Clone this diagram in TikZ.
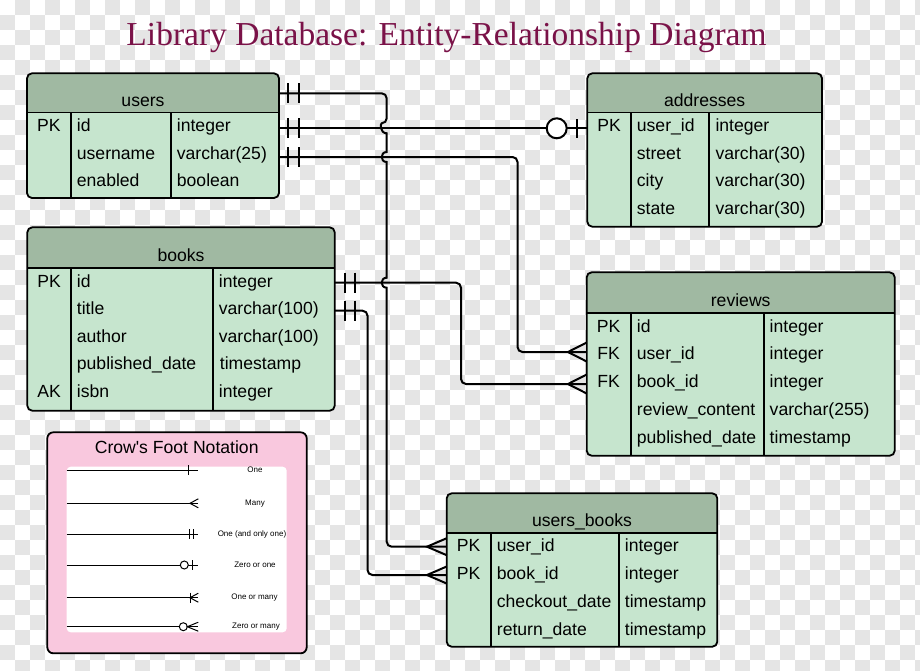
\documentclass[tikz,border=0pt]{standalone}
\usepackage{fontspec}
\setmainfont{Liberation Sans}
\newfontfamily\rawsans{Liberation Sans}
\newfontfamily\titlefont{Liberation Serif}
\usetikzlibrary{fit}
\definecolor{hdr}{RGB}{160,185,162}
\definecolor{bodyc}{RGB}{198,229,206}
\definecolor{pinkc}{RGB}{249,200,222}
\definecolor{titlec}{RGB}{122,18,72}
\definecolor{chk}{RGB}{229,229,229}
\newcommand\ertable[8]{%
  \node[tblbox, fit={(#2,#3) (#4,#6)}] (#1) {};
  \begin{scope}
    \clip[rounded corners=5pt] (#1.north west) rectangle (#1.south east);
    \fill[hdr] (#1.north west) rectangle (#4,#5);
  \end{scope}
  \draw[tline] (#2,#5) -- (#4,#5);
  \draw[tline] (#7,#5) -- (#7,#6);
  \draw[tline] (#8,#5) -- (#8,#6);
  \draw[tline, rounded corners=5pt] (#1.north west) rectangle (#1.south east);
}
\begin{document}
\begin{tikzpicture}[x=1pt,y=-1pt,
  tblbox/.style={fill=bodyc, inner sep=0pt, outer sep=0pt, rounded corners=5pt},
  tline/.style={line width=1.8pt, black},
  conn/.style={line width=2pt},
  barline/.style={line width=2pt},
  thinl/.style={line width=1pt},
  cell/.style={font=\fontsize{17.6}{20}\selectfont, inner sep=0pt, text height=12pt, text depth=4pt, anchor=west},
  pkc/.style={cell, anchor=center},
  ttl/.style={font=\fontsize{17.6}{20}\selectfont, inner sep=0pt, anchor=base},
  lgd/.style={font=\fontsize{8}{9}\selectfont, inner sep=0pt},
]
\useasboundingbox (0,0) rectangle (920,670);
\fill[white] (0,0) rectangle (920,670);
% checkerboard background
\foreach \j in {0,...,44}{
  \pgfmathtruncatemacro\off{mod(\j,2)}
  \foreach \k in {0,...,30}{
    \fill[chk] ({(2*\k+1-\off)*15},{\j*15}) rectangle ++(15,15);
  }
}
% title
\node[inner sep=0pt, anchor=base, text=titlec, font=\titlefont\fontsize{33.5}{36}\selectfont] (title) at (446.5,45.7) {Library Database: Entity-Relationship Diagram};

% ---------------- tables ----------------
% users
\ertable{users}{27}{73.3}{279}{112.5}{198}{70.7}{170.7}
\node[ttl] (users-t) at (143,106.7) {users};
\node[pkc] (users-pk) at (48.8,127.7) {PK};
\node[cell] (users-id) at (76.7,127.7) {id};
\node[cell] (users-un) at (76.7,155.2) {username};
\node[cell] (users-en) at (76.7,182.7) {enabled};
\node[cell] (users-t1) at (176.7,127.7) {integer};
\node[cell] (users-t2) at (176.7,155.2) {varchar(25)};
\node[cell] (users-t3) at (176.7,182.7) {boolean};

% addresses
\ertable{addresses}{587.3}{73.3}{822}{112.5}{226.7}{630.7}{709.3}
\node[ttl] (addresses-t) at (704.7,106.7) {addresses};
\node[pkc] (addresses-pk) at (609,127.7) {PK};
\node[cell] (addresses-uid) at (636.7,127.7) {user\_id};
\node[cell] (addresses-st) at (636.7,155.2) {street};
\node[cell] (addresses-ci) at (636.7,182.7) {city};
\node[cell] (addresses-sa) at (636.7,210.2) {state};
\node[cell] (addresses-t1) at (715.3,127.7) {integer};
\node[cell] (addresses-t2) at (715.3,155.2) {varchar(30)};
\node[cell] (addresses-t3) at (715.3,182.7) {varchar(30)};
\node[cell] (addresses-t4) at (715.3,210.2) {varchar(30)};

% books
\ertable{books}{27.3}{227.3}{334.7}{268.3}{410.7}{70.7}{212.7}
\node[ttl] (books-t) at (181,261.7) {books};
\node[pkc] (books-pk) at (49,283) {PK};
\node[pkc] (books-ak) at (49,393.4) {AK};
\node[cell] (books-id) at (76.7,283) {id};
\node[cell] (books-ti) at (76.7,310.6) {title};
\node[cell] (books-au) at (76.7,338.2) {author};
\node[cell] (books-pd) at (76.7,365.8) {published\_date};
\node[cell] (books-is) at (76.7,393.4) {isbn};
\node[cell] (books-t1) at (218.7,283) {integer};
\node[cell] (books-t2) at (218.7,310.6) {varchar(100)};
\node[cell] (books-t3) at (218.7,338.2) {varchar(100)};
\node[cell] (books-t4) at (219.7,365.8) {timestamp};
\node[cell] (books-t5) at (218.7,393.4) {integer};

% reviews
\ertable{reviews}{586.7}{272.3}{894.7}{313.3}{455.7}{630.7}{764}
\node[ttl] (reviews-t) at (740.7,306.7) {reviews};
\node[pkc] (reviews-pk) at (608.7,328) {PK};
\node[pkc] (reviews-fk1) at (608.7,355.8) {FK};
\node[pkc] (reviews-fk2) at (608.7,383.6) {FK};
\node[cell] (reviews-id) at (636.7,328) {id};
\node[cell] (reviews-uid) at (636.7,355.8) {user\_id};
\node[cell] (reviews-bid) at (636.7,383.6) {book\_id};
\node[cell] (reviews-rc) at (636.7,411.4) {review\_content};
\node[cell] (reviews-pd) at (636.7,439.2) {published\_date};
\node[cell] (reviews-t1) at (769.5,328) {integer};
\node[cell] (reviews-t2) at (769.5,355.8) {integer};
\node[cell] (reviews-t3) at (769.5,383.6) {integer};
\node[cell] (reviews-t4) at (769.5,411.4) {varchar(255)};
\node[cell] (reviews-t5) at (769.5,439.2) {timestamp};

% users_books
\ertable{users_books}{446.7}{493.3}{717.3}{532.7}{646.7}{490.7}{618.7}
\node[ttl] (ub-t) at (582,526.5) {users\_books};
\node[pkc] (ub-pk1) at (468.7,547.7) {PK};
\node[pkc] (ub-pk2) at (468.7,575.6) {PK};
\node[cell] (ub-uid) at (496.7,547.7) {user\_id};
\node[cell] (ub-bid) at (496.7,575.6) {book\_id};
\node[cell] (ub-cd) at (496.7,603.5) {checkout\_date};
\node[cell] (ub-rd) at (496.7,631.4) {return\_date};
\node[cell] (ub-t1) at (624.7,547.7) {integer};
\node[cell] (ub-t2) at (624.7,575.6) {integer};
\node[cell] (ub-t3) at (624.7,603.5) {timestamp};
\node[cell] (ub-t4) at (624.7,631.4) {timestamp};

% ---------------- connectors ----------------
% users -> users_books.user_id (with hops)
\draw[conn] (users.east |- 0,93.3) [rounded corners=5pt] -- (386.7,93.3) -- (386.7,123.3) [sharp corners]
  .. controls (380,123.3) and (380,133.3) .. (386.7,133.3) -- (386.7,152)
  .. controls (380,152) and (380,162) .. (386.7,162) -- (386.7,277.7)
  .. controls (380,277.7) and (380,287.7) .. (386.7,287.7) [rounded corners=5pt] -- (386.7,546.7) -- (users_books.west |- 0,546.7);
% users.id -> addresses.user_id
\draw[conn] (users.east |- 0,128.3) -- (addresses.west |- 0,128.3);
% users.username -> reviews.user_id
\draw[conn, rounded corners=5pt] (users.east |- 0,157) -- (517.5,157) -- (517.5,352) -- (reviews.west |- 0,352);
% books.id -> reviews.book_id
\draw[conn, rounded corners=5pt] (books.east |- 0,282.7) -- (461,282.7) -- (461,384) -- (reviews.west |- 0,384);
% books.title -> users_books.book_id
\draw[conn, rounded corners=5pt] (books.east |- 0,310.7) -- (367.5,310.7) -- (367.5,575) -- (users_books.west |- 0,575);

% double bars (one and only one)
\foreach \yy in {93.3,128.3,157}{
  \draw[barline] (288.3,\yy-10) -- (288.3,\yy+10);
  \draw[barline] (299.3,\yy-10) -- (299.3,\yy+10);
}
\foreach \yy in {282.7,310.7}{
  \draw[barline] (345,\yy-10) -- (345,\yy+10);
  \draw[barline] (355,\yy-10) -- (355,\yy+10);
}
% zero or one at addresses
\draw[barline, fill=white] (556.7,128.3) circle[radius=10pt];
\draw[barline] (576.7,119) -- (576.7,137.6);
% crow's feet (many)
\foreach \yy in {352,384}{
  \draw[barline] (reviews.west |- 0,\yy-9.5) -- (568,\yy) -- (reviews.west |- 0,\yy+9.5);
}
\foreach \yy in {546.7,575}{
  \draw[barline] (users_books.west |- 0,\yy-8.5) -- (427,\yy) -- (users_books.west |- 0,\yy+8.5);
}

% ---------------- legend ----------------
\node[fit={(47.3,432.3) (306.7,653.3)}, inner sep=0pt, outer sep=0pt, fill=pinkc, draw, line width=1.8pt, rounded corners=6pt] (legend) {};
\node[ttl, font=\rawsans\fontsize{17.6}{20}\selectfont] (legend-t) at (176.7,453.3) {Crow's Foot Notation};
\node[fit={(66.7,466.7) (286.7,632.3)}, inner sep=0pt, outer sep=0pt, fill=white, rounded corners=4pt] (panel) {};
% One
\draw[thinl] (panel.west |- 0,470) -- (198.3,470);
\draw[thinl] (188.3,465) -- (188.3,475);
\node[lgd] (l1) at (255,470) {One};
% Many
\draw[thinl] (panel.west |- 0,503.3) -- (198.3,503.3);
\draw[thinl] (198.3,498.8) -- (190,503.3) -- (198.3,507.8);
\node[lgd] (l2) at (255,503.3) {Many};
% One and only one
\draw[thinl] (panel.west |- 0,534.3) -- (198.3,534.3);
\draw[thinl] (189.3,529.3) -- (189.3,539.3);
\draw[thinl] (193,529.3) -- (193,539.3);
\node[lgd] (l3) at (252,534.3) {One (and only one)};
% Zero or one
\draw[thinl] (panel.west |- 0,565) -- (198.3,565);
\draw[thinl, fill=white] (184.3,565) circle[radius=4pt];
\draw[thinl] (192.7,560) -- (192.7,570);
\node[lgd] (l4) at (255,565) {Zero or one};
% One or many
\draw[thinl] (panel.west |- 0,597.7) -- (198.3,597.7);
\draw[thinl] (190,592.7) -- (190,602.7);
\draw[thinl] (198.3,593.2) -- (190,597.7) -- (198.3,602.2);
\node[lgd] (l5) at (254.5,597.7) {One or many};
% Zero or many
\draw[thinl] (panel.west |- 0,626.7) -- (198.3,626.7);
\draw[thinl, fill=white] (183.3,626.7) circle[radius=4pt];
\draw[thinl] (198.3,622.2) -- (187.3,626.7) -- (198.3,631.2);
\node[lgd] (l6) at (256,626.7) {Zero or many};
\end{tikzpicture}
\end{document}
